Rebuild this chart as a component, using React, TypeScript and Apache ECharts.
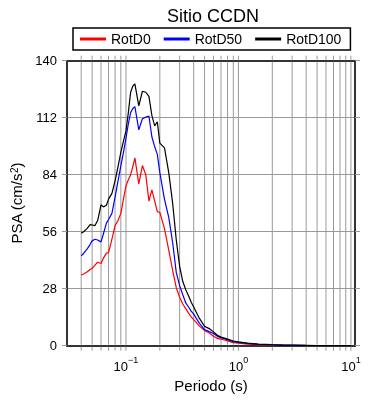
import React, { useEffect, useRef } from "react";
import * as echarts from "echarts";

const periods = [0.04, 0.042, 0.045, 0.048, 0.05, 0.053, 0.056, 0.06, 0.063, 0.067, 0.07, 0.075, 0.08, 0.085, 0.09, 0.095, 0.1, 0.105, 0.11, 0.115, 0.12, 0.13, 0.14, 0.15, 0.16, 0.17, 0.18, 0.19, 0.2, 0.22, 0.24, 0.26, 0.28, 0.3, 0.32, 0.34, 0.36, 0.38, 0.4, 0.45, 0.5, 0.55, 0.6, 0.65, 0.7, 0.75, 0.8, 0.9, 1.0, 1.2, 1.5, 2.0, 2.5, 3.0, 4.0, 5.0, 6.0, 7.5, 10];

const rotD100 = [55.2, 56.0, 57.5, 59.5, 59.3, 59.0, 61.5, 69.2, 68.2, 69, 72, 74.8, 81, 88, 95, 100.5, 105.5, 114.5, 124.5, 127.5, 128.6, 117.8, 125, 124.5, 122.5, 113, 108, 110, 99.5, 97.2, 85, 70, 52, 39, 31.5, 27.5, 24.5, 21.3, 19, 13.4, 9.5, 8.4, 6.8, 5.1, 4.2, 3.7, 3.2, 2.3, 1.9, 1.3, 0.8, 0.5, 0.3, 0.25, 0.15, 0.1, 0.08, 0.05, 0.03];

const rotD50 = [44.1, 45.3, 47.4, 49.8, 51.5, 52.3, 51.9, 51, 55, 60.2, 62, 65, 73, 81, 88.3, 95, 102, 109, 114.5, 116.5, 117.4, 106, 111.5, 112.3, 112.8, 102.5, 97.8, 94, 85, 71.9, 63, 50.7, 36, 29.5, 25, 21, 19, 17, 15.5, 11, 7.9, 6.9, 6, 4.6, 3.9, 3.4, 2.9, 2.0, 1.6, 1.1, 0.7, 0.4, 0.25, 0.2, 0.12, 0.08, 0.06, 0.04, 0.03];

const rotD0 = [34.7, 35.2, 36.2, 37.4, 38, 39.6, 41, 40.4, 43, 45.5, 45.7, 52.4, 59, 61.5, 65, 72, 78.5, 81.5, 84, 88, 92.3, 79.5, 88.5, 84, 71, 76.5, 71, 65.8, 65.5, 57.5, 47, 37, 28.5, 23.8, 20.5, 18.2, 16, 14.2, 12.8, 9.6, 7.5, 6.2, 4.6, 3.6, 3.2, 2.8, 2.4, 1.5, 1.2, 0.8, 0.5, 0.3, 0.2, 0.15, 0.1, 0.07, 0.05, 0.04, 0.02];

const seriesNames = ["RotD0", "RotD50", "RotD100"];
const seriesColors = ["#ff0000", "#0000ff", "#000000"];

const xTicks = [0.04, 0.05, 0.06, 0.07, 0.08, 0.09, 0.1, 0.2, 0.3, 0.4, 0.5, 0.6, 0.7, 0.8, 0.9, 1, 2, 3, 4, 5, 6, 7, 8, 9, 10];
const yTicks = { min: 0, max: 140, interval: 28 };
const xRange = { min: 0.0299, max: 10.87 };

const FONT = "'Liberation Sans', Arial, Helvetica, sans-serif";

export default function App() {
  const ref = useRef<HTMLDivElement>(null);
  useEffect(() => {
    if (!ref.current) return;
    const chart = echarts.init(ref.current, null, { renderer: "svg" });
    const lineSeries = [rotD0, rotD50, rotD100].map((vals, i) => ({
      name: seriesNames[i],
      type: "line",
      data: periods.map((p, j) => [p, vals[j]]),
      showSymbol: false,
      symbol: "none",
      color: seriesColors[i],
      lineStyle: { color: seriesColors[i], width: 1.2 },
      z: 3,
    }));
    const option: any = {
      animation: false,
      textStyle: { fontFamily: FONT },
      title: {
        text: "Sitio CCDN",
        left: 208,
        top: 2,
        textAlign: "center",
        textStyle: { fontSize: 18, fontWeight: "normal", color: "#000", fontFamily: FONT },
      },
      legend: {
        data: seriesNames,
        left: 73,
        top: 28,
        padding: [4, 9, 4, 7],
        borderColor: "#000",
        borderWidth: 1.5,
        itemWidth: 26,
        itemHeight: 3,
        itemGap: 13,
        icon: "rect",
        textStyle: { fontSize: 14, color: "#000", fontFamily: FONT },
      },
      grid: { left: 67, right: 35, top: 60.7, bottom: 54.3 },
      xAxis: [
        {
          type: "log",
          min: xRange.min,
          max: xRange.max,
          position: "bottom",
          name: "Periodo (s)",
          nameLocation: "middle",
          nameGap: 28,
          nameTextStyle: { fontSize: 15, color: "#000", fontFamily: FONT },
          axisLine: { show: true, onZero: false, lineStyle: { color: "#333", width: 2 } },
          axisTick: { show: false },
          splitLine: { show: false },
          axisLabel: {
            margin: 10,
            formatter: (v: number) => {
              const l = Math.log10(v);
              if (Math.abs(l - Math.round(l)) > 1e-6) return "";
              const e = Math.round(l);
              return "{b|10}{s|" + (e < 0 ? "\u2212" + -e : String(e)) + "}";
            },
            rich: {
              b: { fontSize: 13, color: "#000", lineHeight: 17, verticalAlign: "bottom", fontFamily: FONT },
              s: { fontSize: 9, color: "#000", lineHeight: 10, verticalAlign: "top", fontFamily: FONT },
            },
          },
        },
        {
          type: "log",
          min: xRange.min,
          max: xRange.max,
          position: "top",
          axisLine: { show: true, onZero: false, lineStyle: { color: "#333", width: 2 } },
          axisTick: { show: false },
          splitLine: { show: false },
          axisLabel: { show: false },
        },
      ],
      yAxis: [
        {
          type: "value",
          min: yTicks.min,
          max: yTicks.max,
          interval: yTicks.interval,
          position: "left",
          name: "PSA (cm/s{s|2})",
          nameLocation: "middle",
          nameGap: 27,
          nameTextStyle: {
            fontSize: 15,
            color: "#000",
            fontFamily: FONT,
            rich: {
              s: { fontSize: 10, lineHeight: 10, verticalAlign: "top", color: "#000", fontFamily: FONT },
            },
          },
          axisLine: { show: true, onZero: false, lineStyle: { color: "#333", width: 2 } },
          axisTick: { show: true, length: 5, lineStyle: { color: "#999" } },
          splitLine: { show: true, lineStyle: { color: "#999", width: 1 } },
          axisLabel: { fontSize: 13, color: "#000", margin: 10, fontFamily: FONT },
        },
        {
          type: "value",
          min: yTicks.min,
          max: yTicks.max,
          interval: yTicks.interval,
          position: "right",
          axisLine: { show: true, onZero: false, lineStyle: { color: "#333", width: 2 } },
          axisTick: { show: true, length: 5, lineStyle: { color: "#999" } },
          splitLine: { show: false },
          axisLabel: { show: false },
        },
      ],
      series: [
        {
          name: "xgrid",
          type: "custom",
          xAxisIndex: 0,
          yAxisIndex: 0,
          z: 1,
          silent: true,
          encode: { x: 0, y: 1 },
          data: xTicks.map((t) => [t, 0]),
          renderItem: (params: any, api: any) => {
            const v = api.value(0);
            const bot = api.coord([v, yTicks.min]);
            const top = api.coord([v, yTicks.max]);
            const stroke = { stroke: "#999", lineWidth: 1 };
            return {
              type: "group",
              children: [
                { type: "line", shape: { x1: bot[0], y1: bot[1] - 1, x2: top[0], y2: top[1] + 1 }, style: stroke },
                { type: "line", shape: { x1: bot[0], y1: bot[1] + 1, x2: bot[0], y2: bot[1] + 5 }, style: stroke },
                { type: "line", shape: { x1: top[0], y1: top[1] - 1, x2: top[0], y2: top[1] - 5 }, style: stroke },
              ],
            };
          },
        },
        ...lineSeries,
      ],
    };
    chart.setOption(option);
    return () => chart.dispose();
  }, []);
  return <div ref={ref} style={{ position: "fixed", left: 0, top: 0, width: 390, height: 400 }} />;
}
